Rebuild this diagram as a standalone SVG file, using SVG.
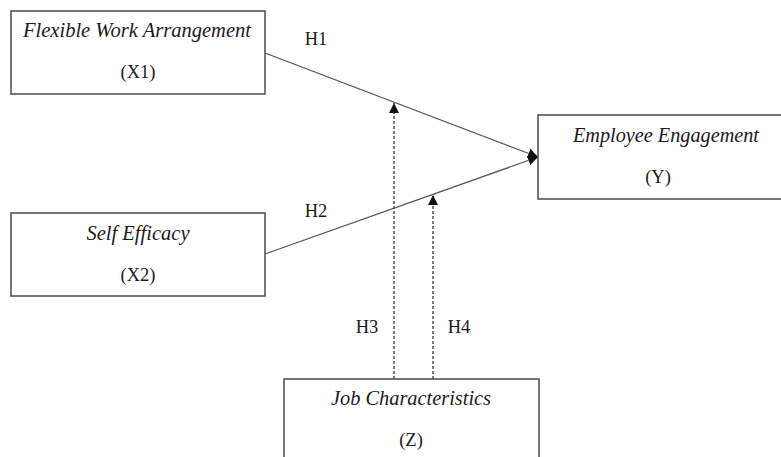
<svg xmlns="http://www.w3.org/2000/svg" width="781" height="457" viewBox="0 0 781 457">
<style>
.box{fill:#fff;stroke:#555;stroke-width:1.6}
.t{font-family:"Liberation Serif","Times New Roman",serif;font-size:18.5px;fill:#1a1a1a;text-anchor:middle}
.i{font-style:italic;font-size:20px}
.l{stroke:#555;stroke-width:1.3;fill:none}
.d{stroke:#333;stroke-width:1.3;fill:none;stroke-dasharray:3,2}
</style>
<defs>
<marker id="ah" viewBox="0 0 10 10" refX="10" refY="5" markerWidth="10" markerHeight="10" markerUnits="userSpaceOnUse" orient="auto">
<path d="M0,0 L10,5 L0,10 z" fill="#111"/>
</marker>
</defs>
<rect width="781" height="457" fill="#fff"/>
<g id="connectors">
<line class="l" x1="265" y1="53" x2="538" y2="157" marker-end="url(#ah)"/>
<line class="l" x1="265" y1="254" x2="538" y2="157" marker-end="url(#ah)"/>
<line class="d" x1="394" y1="379" x2="394" y2="103" marker-end="url(#ah)"/>
<line class="d" x1="433" y1="379" x2="433" y2="195" marker-end="url(#ah)"/>
<text class="t" x="316" y="45">H1</text>
<text class="t" x="316" y="217">H2</text>
<text class="t" x="367" y="333">H3</text>
<text class="t" x="459" y="333">H4</text>
</g>
<g id="x1">
<rect class="box" x="11" y="11" width="254" height="83"/>
<text class="t i" x="137" y="37" textLength="228" lengthAdjust="spacingAndGlyphs">Flexible Work Arrangement</text>
<text class="t" x="138" y="78">(X1)</text>
</g>
<g id="x2">
<rect class="box" x="11" y="213" width="254" height="83"/>
<text class="t i" x="138" y="240" textLength="103" lengthAdjust="spacingAndGlyphs">Self Efficacy</text>
<text class="t" x="138" y="281">(X2)</text>
</g>
<g id="y">
<rect class="box" x="538" y="115" width="260" height="84"/>
<text class="t i" x="666" y="142" textLength="186" lengthAdjust="spacingAndGlyphs">Employee Engagement</text>
<text class="t" x="658" y="183">(Y)</text>
</g>
<g id="z">
<rect class="box" x="284" y="379" width="255" height="100"/>
<text class="t i" x="411" y="405" textLength="160" lengthAdjust="spacingAndGlyphs">Job Characteristics</text>
<text class="t" x="411" y="446">(Z)</text>
</g>
</svg>
